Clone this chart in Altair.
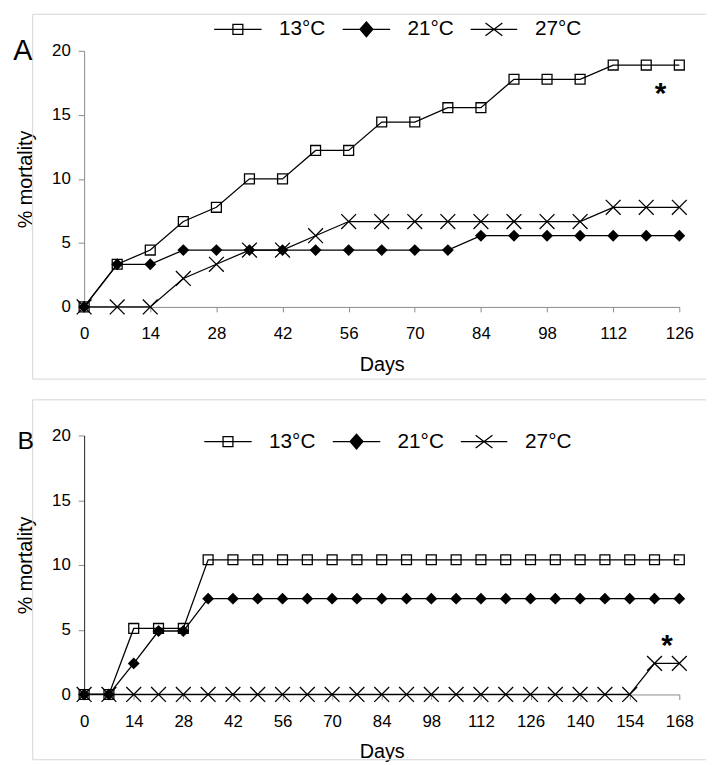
import altair as alt
import pandas as pd

# ---------------- data ----------------
series = ["13°C", "21°C", "27°C"]

a_days = list(range(0, 127, 7))
a_13 = [0, 3.33, 4.44, 6.67, 7.78, 10.0, 10.0, 12.22, 12.22, 14.44, 14.44,
        15.56, 15.56, 17.78, 17.78, 17.78, 18.89, 18.89, 18.89]
a_21 = [0, 3.33, 3.33, 4.44, 4.44, 4.44, 4.44, 4.44, 4.44, 4.44, 4.44, 4.44,
        5.56, 5.56, 5.56, 5.56, 5.56, 5.56, 5.56]
a_27 = [0, 0, 0, 2.22, 3.33, 4.44, 4.44, 5.56, 6.67, 6.67, 6.67, 6.67, 6.67,
        6.67, 6.67, 6.67, 7.78, 7.78, 7.78]

b_days = list(range(0, 169, 7))
b_13 = [0, 0, 5.1, 5.1, 5.1] + [10.4] * 20
b_21 = [0, 0, 2.4, 4.9, 4.9] + [7.4] * 20
b_27 = [0] * 23 + [2.4, 2.4]

a_ticks = list(range(0, 127, 14))
b_ticks = list(range(0, 169, 14))
y_ticks = [0, 5, 10, 15, 20]

star_a = {"day": [122], "mort": [16.8], "t": ["*"]}
star_b = {"day": [164.5], "mort": [3.9], "t": ["*"]}

FONT = "Liberation Sans"
X_PATH = "M-1,-1L1,1M-1,1L1,-1"
LEG_SHAPES = [
    "M-4.8,0H4.8M-1,-1H1V1H-1Z",
    "M-4.8,0H4.8M0,-1.5L1.3,0L0,1.5L-1.3,0Z",
    "M-4.7,0H4.7M-1.7,-1.3L1.7,1.3M-1.7,1.3L1.7,-1.3",
]
LEG_FILLS = ["white", "black", "transparent"]
LEG_STROKES = ["black", "black", "black"]


def long_df(days, vals):
    rows = []
    for s, v in zip(series, vals):
        for d, y in zip(days, v):
            rows.append({"day": d, "mort": y, "series": s})
    return pd.DataFrame(rows)


def panel(days, vals, xmax, ticks, star, letter, lx, ly, legx, legy,
          ydomcolor, frame_bottom, frame_top, letter_size):
    df = long_df(days, vals)
    x = alt.X("day:Q", scale=alt.Scale(domain=[0, xmax], nice=False),
              axis=alt.Axis(values=ticks, title="Days", grid=False,
                            domainColor="#8a8a8a", tickColor="#8a8a8a",
                            tickSize=5, labelPadding=14, labelFontSize=17,
                            labelColor="black", titleFontSize=20,
                            titleFontWeight="normal", titleColor="black",
                            titlePadding=13, labelFlush=False))
    y = alt.Y("mort:Q", scale=alt.Scale(domain=[0, 20], nice=False),
              axis=alt.Axis(values=y_ticks, title="% mortality", grid=False,
                            domainColor=ydomcolor, tickColor="#8a8a8a",
                            tickSize=6, labelPadding=8, labelFontSize=17,
                            labelColor="black", titleFontSize=20,
                            titleFontWeight="normal", titleColor="black",
                            titlePadding=16))
    base = alt.Chart(df).encode(x=x, y=y)
    lines = base.mark_line(color="black", strokeWidth=1.3).encode(detail="series:N")
    sq = base.transform_filter(alt.datum.series == series[0]).mark_point(
        shape="square", size=100, filled=False, color="black",
        strokeWidth=1.3, opacity=1)
    dm = base.transform_filter(alt.datum.series == series[1]).mark_point(
        shape="diamond", size=144, filled=True, color="black", opacity=1)
    xx = base.transform_filter(alt.datum.series == series[2]).mark_point(
        shape=X_PATH, size=225, filled=False, color="black",
        strokeWidth=1.3, opacity=1)
    stars = alt.Chart(pd.DataFrame(star)).mark_text(
        fontSize=30, fontWeight="bold", baseline="middle", dy=2,
        font=FONT, color="black").encode(
        x=alt.X("day:Q"), y=alt.Y("mort:Q"), text="t:N")

    leg = alt.Legend(orient="none", legendX=legx, legendY=legy,
                     direction="horizontal", title=None, labelFontSize=21,
                     labelFont=FONT, labelColor="black", symbolSize=100,
                     symbolStrokeWidth=1.3,
                     labelOffset=31, columnPadding=14, padding=0,
                     symbolOpacity=1)
    legend_layer = alt.Chart(df).transform_filter("false").mark_point(
        strokeWidth=1.3, opacity=1, size=100).encode(
        x="day:Q", y="mort:Q",
        shape=alt.Shape("series:N", scale=alt.Scale(domain=series, range=LEG_SHAPES), legend=leg),
        fill=alt.Fill("series:N", scale=alt.Scale(domain=series, range=LEG_FILLS), legend=leg),
        stroke=alt.Stroke("series:N", scale=alt.Scale(domain=series, range=LEG_STROKES), legend=leg),
    )

    one = alt.Chart(alt.Data(values=[{"k": 0}]))
    fc = "#d4d4d4"
    frame = [
        one.mark_rule(color=fc, strokeWidth=1).encode(
            x=alt.value(-52), x2=alt.value(629), y=alt.value(frame_top)),
        one.mark_rule(color=fc, strokeWidth=1).encode(
            x=alt.value(-52), y=alt.value(frame_top), y2=alt.value(frame_bottom)),
    ]
    if frame_bottom < 340:
        frame.append(one.mark_rule(color=fc, strokeWidth=1).encode(
            x=alt.value(-52), x2=alt.value(629), y=alt.value(frame_bottom)))
    label = one.mark_text(text=letter, fontSize=letter_size, font=FONT,
                          color="black", align="center",
                          baseline="alphabetic").encode(
        x=alt.value(lx), y=alt.value(ly))

    return alt.layer(*frame, lines, sq, dm, xx, stars, label, legend_layer)


chart_a = panel(a_days, [a_13, a_21, a_27], 126, a_ticks, star_a, "A",
                -62, 9, 145, -32.5, "#8a8a8a", 332, -37, 29).properties(
    width=602, height=259)
chart_b = panel(b_days, [b_13, b_21, b_27], 168, b_ticks, star_b, "B",
                -59, 14, 135, -4.5, "#222222", 328, -36, 25).properties(
    width=602, height=262)

chart = alt.vconcat(chart_a, chart_b, spacing=19).resolve_scale(
    shape="independent", fill="independent", stroke="independent",
    x="independent", y="independent"
).resolve_legend(shape="independent", fill="independent",
                 stroke="independent").properties(
    padding={"left": 5, "top": 1, "right": 0, "bottom": 0}
).configure(font=FONT).configure_view(stroke=None)

chart.save("out.html", embed_options={"renderer": "svg", "actions": False})
